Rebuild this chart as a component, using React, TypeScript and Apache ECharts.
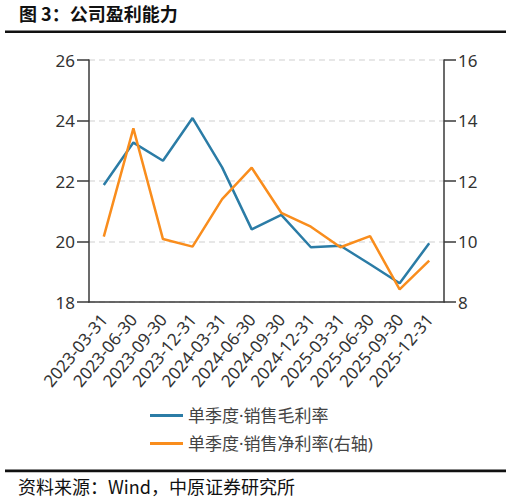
import React, { useEffect, useRef } from "react";
import * as echarts from "echarts";

const categories = [
  "2023-03-31", "2023-06-30", "2023-09-30", "2023-12-31",
  "2024-03-31", "2024-06-30", "2024-09-30", "2024-12-31",
  "2025-03-31", "2025-06-30", "2025-09-30", "2025-12-31",
];
const grossMargin = [21.87, 23.27, 22.67, 24.08, 22.45, 20.4, 20.88, 19.81, 19.86, 19.25, 18.62, 19.94];
const netMargin = [10.16, 13.74, 10.08, 9.83, 11.4, 12.44, 10.95, 10.49, 9.81, 10.18, 8.42, 9.37];
const seriesNames = ["单季度·销售毛利率", "单季度·销售净利率(右轴)"];
const titleText = "图 3：公司盈利能力";
const sourceText = "资料来源：Wind，中原证券研究所";

const FONT = "'Noto Sans', 'Noto Sans CJK SC', sans-serif";
const CJK = "'Noto Sans CJK SC', sans-serif";
const AXIS = "#3a3a3a";

export default function App() {
  const ref = useRef<HTMLDivElement>(null);
  useEffect(() => {
    if (!ref.current) return;
    const chart = echarts.init(ref.current, null, { renderer: "svg" });
    const axisCommon = {
      type: "value" as const,
      interval: 2,
      axisLine: { show: true, lineStyle: { color: AXIS, width: 1.5 } },
      axisTick: { show: true, length: 12, lineStyle: { color: AXIS, width: 1.5 } },
      axisLabel: { color: "#333", fontSize: 17, fontFamily: FONT, margin: 14 },
    };
    chart.setOption({
      animation: false,
      backgroundColor: "#fff",
      grid: { left: 89, right: 67, top: 60, height: 242 },
      legend: {
        orient: "vertical",
        left: 145,
        top: 402,
        itemWidth: 33,
        itemHeight: 3,
        itemGap: 11,
        icon: "rect",
        textStyle: { color: "#444", fontSize: 17, fontFamily: FONT },
        data: seriesNames,
      },
      xAxis: {
        type: "category",
        data: categories,
        boundaryGap: true,
        axisLine: { lineStyle: { color: AXIS, width: 1.5 } },
        axisTick: { alignWithLabel: true, length: 11, lineStyle: { color: AXIS, width: 1.5 } },
        axisLabel: { rotate: 50, color: "#333", fontSize: 17, fontFamily: FONT, margin: 14, interval: 0 },
      },
      yAxis: [
        {
          ...axisCommon,
          min: 18,
          max: 26,
          splitLine: { show: true, lineStyle: { color: "#e0e0e0", type: [6, 4], width: 1.5 } },
        },
        {
          ...axisCommon,
          min: 8,
          max: 16,
          position: "right",
          splitLine: { show: false },
        },
      ],
      series: [
        {
          name: seriesNames[0],
          type: "line",
          data: grossMargin,
          yAxisIndex: 0,
          symbol: "none",
          lineStyle: { color: "#2b7ca6", width: 2.5 },
          itemStyle: { color: "#2b7ca6" },
        },
        {
          name: seriesNames[1],
          type: "line",
          data: netMargin,
          yAxisIndex: 1,
          symbol: "none",
          lineStyle: { color: "#f98d1d", width: 2.5 },
          itemStyle: { color: "#f98d1d" },
        },
      ],
      graphic: [
        {
          type: "text",
          left: 19,
          top: 4,
          style: { text: titleText, fill: "#111", font: `bold 18px ${CJK}` },
        },
        {
          type: "rect",
          shape: { x: 5, y: 30.5, width: 501, height: 2.5 },
          style: { fill: "#111" },
        },
        {
          type: "rect",
          shape: { x: 5, y: 469.5, width: 501, height: 2.8 },
          style: { fill: "#111" },
        },
        {
          type: "text",
          left: 18,
          top: 477,
          style: { text: sourceText, fill: "#111", font: `18px ${CJK}` },
        },
      ],
    });
    return () => chart.dispose();
  }, []);
  return (
    <div
      ref={ref}
      style={{ position: "fixed", left: 0, top: 0, width: 511, height: 503, background: "#fff" }}
    />
  );
}
